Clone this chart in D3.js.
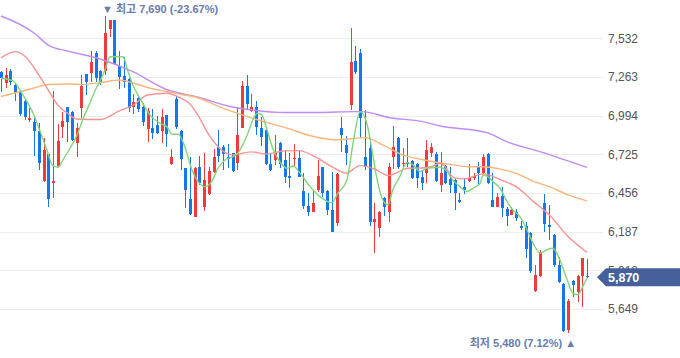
<!DOCTYPE html>
<html><head><meta charset="utf-8">
<script src="https://cdn.jsdelivr.net/npm/d3@7"></script>
<style>html,body{margin:0;padding:0;background:#fff;overflow:hidden}</style>
</head><body>
<svg id="c" width="680" height="358"></svg>
<script>
// ---- data ----
const opens  = [7299,7218,7304,7207,7160,7098,6963,6947,6887,6539,6727,6523,6644,6917,7051,7021,6801,7044,7281,7288,7431,7304,7306,7594,7658,7339,7269,7248,7056,7114,7051,6898,6910,6929,6889,6998,6658,7109,6887,6627,6412,6291,6639,6361,6449,6604,6778,6778,6709,6732,6667,6910,7200,7028,7051,6910,6894,6658,6685,6806,6685,6576,6692,6697,6470,6366,6326,6477,6634,6470,6338,6250,6910,6790,7068,7373,7431,6709,6771,6257,6210,6419,6326,6709,6841,6658,6674,6678,6655,6570,6593,6732,6727,6512,6644,6553,6546,6407,6500,6542,6558,6634,6597,6727,6407,6361,6435,6342,6303,6326,6227,6227,6180,5777,5881,6384,6234,6164,5955,5824,5504,5847,5770,5881,5880];
const highs  = [7306,7323,7316,7214,7172,7102,7044,6975,6940,6841,6727,7165,6933,7021,7056,7026,6940,7276,7283,7443,7445,7311,7690,7660,7662,7443,7404,7253,7142,7126,7079,7049,7040,6991,7038,7000,6760,7130,6894,6632,6709,6639,6713,6732,6639,6760,6894,6790,6794,6736,7056,7235,7276,7142,7095,6987,6896,6732,6859,6811,6755,6732,6794,6755,6593,6458,6470,6685,6639,6477,6604,6593,6987,6852,7605,7478,7455,7033,6836,6384,6330,6426,6662,6922,6845,6766,6836,6685,6662,6611,6824,6806,6743,6743,6651,6634,6550,6454,6558,6658,6593,6674,6727,6732,6593,6454,6500,6356,6361,6342,6264,6252,6187,5955,6060,6447,6373,6168,6013,5828,5717,5851,5885,6005,5995];
const lows   = [7160,7184,7207,7098,6991,6963,6952,6715,6616,6530,6356,6419,6639,6836,6808,6818,6709,6975,7137,7225,7230,7207,7276,7538,7350,7177,7184,7021,7005,7021,6922,6813,6829,6866,6806,6773,6651,6898,6616,6349,6303,6287,6512,6333,6442,6593,6674,6616,6627,6602,6616,6905,7033,7021,6859,6783,6651,6609,6651,6627,6523,6493,6639,6565,6342,6296,6322,6465,6430,6303,6183,6227,6743,6651,7033,7281,6836,6616,6227,6037,6152,6296,6257,6623,6621,6639,6639,6555,6488,6477,6523,6709,6535,6465,6516,6454,6338,6389,6447,6535,6546,6512,6588,6519,6356,6356,6287,6227,6300,6264,6199,6006,5898,5766,5874,6187,6129,5944,5828,5490,5480,5735,5701,5666,5863];
const closes = [7258,7274,7230,7149,7005,6987,6980,6889,6662,6755,6412,6539,6817,6956,6952,6824,6910,7200,7230,7369,7253,7218,7566,7658,7350,7265,7230,7044,7089,7040,6952,7026,6871,6875,6987,6864,6709,6912,6690,6477,6310,6627,6523,6546,6609,6709,6713,6727,6692,6609,6859,7200,7075,7051,6912,6843,6658,6616,6732,6658,6570,6563,6702,6570,6366,6326,6389,6574,6458,6338,6187,6588,6859,6736,7369,7295,6980,6639,6257,6273,6326,6361,6639,6778,6639,6667,6658,6558,6558,6523,6755,6778,6542,6593,6523,6512,6454,6396,6477,6558,6574,6593,6709,6523,6361,6426,6349,6296,6338,6280,6215,6064,5914,5886,6044,6238,6222,5955,5840,5499,5708,5817,5881,6002,5870];

// moving averages: [candle index, value]
const ma5 = [[0,7254],[2.5,7237],[4,7172],[5.5,7091],[6.8,7011],[8.3,6883],[9.7,6756],[11,6644],[12.1,6635],[13.1,6686],[14.6,6767],[16.1,6860],[17.4,6976],[18.8,7080],[20.3,7195],[20.9,7230],[22,7312],[23.1,7404],[25.8,7404],[26.9,7300],[27.9,7207],[29.4,7115],[31.5,6999],[33.6,6941],[35.1,6917],[36.2,6865],[37.5,6865],[38.9,6778],[40.4,6617],[41.7,6535],[43.2,6500],[44.6,6535],[45.9,6628],[47.4,6686],[49.1,6709],[50.1,6733],[52.1,6860],[53.3,6964],[54.2,7011],[55.2,6999],[56.3,6895],[57.6,6756],[59,6674],[60.5,6628],[61.8,6644],[63.3,6594],[65.4,6500],[67.5,6431],[70,6389],[71.3,6455],[73.2,6547],[74.5,6802],[76,7022],[77.4,6941],[78.5,6756],[79.6,6547],[80.8,6408],[81.9,6373],[82.9,6478],[84.4,6570],[85.9,6667],[87.2,6651],[88.7,6605],[90.1,6628],[91.4,6632],[92.9,6635],[94.4,6605],[95.6,6547],[97.1,6500],[98.6,6466],[99.9,6489],[101.4,6524],[102,6582],[103,6570],[104.1,6535],[105.6,6489],[107.1,6396],[108.3,6338],[109.8,6292],[111.3,6200],[112.6,6107],[114.1,6038],[115.5,6061],[116.8,6072],[118.1,6003],[119.8,5852],[121,5760],[122.1,5748],[123.1,5805],[124,5864]];
const ma20 = [[0,7395],[3,7439],[5,7409],[8,7277],[10,7172],[12,7068],[14,7013],[16,6971],[21,6967],[25,7027],[28,7068],[31,7138],[35,7150],[38,7117],[40,7075],[42,6978],[44,6860],[46,6776],[49,6721],[53,6742],[56,6728],[60,6749],[63,6751],[67,6698],[70,6639],[73,6594],[76,6646],[79,6623],[82,6577],[84,6601],[86,6628],[89,6630],[91,6639],[93,6663],[96,6561],[98,6554],[102,6589],[106,6544],[109,6500],[113,6387],[116,6304],[120,6153],[124,6042]];
const ma60 = [[0,7127],[7,7186],[10,7211],[14,7214],[17,7211],[21,7223],[25,7242],[28,7221],[31,7190],[35,7162],[38,7143],[42,7115],[46,7058],[53,6978],[60,6912],[67,6842],[71,6825],[77,6841],[81,6787],[85,6721],[89,6689],[95,6655],[99,6639],[102,6639],[106,6620],[109,6593],[113,6533],[116,6500],[120,6443],[124,6401]];
const ma120 = [[0,7687],[7,7569],[10,7485],[14,7444],[21,7388],[28,7298],[35,7176],[42,7120],[48,7061],[53,7034],[60,7016],[67,7016],[75,7022],[77,7020],[82,6981],[89,6954],[93,6922],[103,6874],[107,6813],[114,6744],[124,6634]];

const tickValues = [5649,5918,6187,6456,6725,6994,7263,7532];
const lastPrice = 5870;
const maxIdx = 22, maxLabel = "▼ 최고 7,690 (-23.67%)";
const minIdx = 120, minLabel = "최저 5,480 (7.12%) ▲";

// ---- drawing ----
const W = 680, H = 358;
const plotRight = 603;
const svg = d3.select("#c");
const font = "'Liberation Sans', Arial, 'Noto Sans CJK KR', sans-serif";
const UP = "#ef3b3b", DOWN = "#1677ea";

const x = d3.scaleLinear().domain([0, closes.length - 1]).range([1, 587]);
const y = d3.scaleLinear().domain([5649, 7532]).range([309, 38.3]);

// grid + axis
const axis = d3.axisRight(y).tickValues(tickValues).tickSize(-plotRight).tickPadding(5).tickFormat(d3.format(","));
const ag = svg.append("g").attr("transform", `translate(${plotRight},0)`).call(axis);
ag.select(".domain").remove();
ag.selectAll(".tick line").attr("stroke", "#ededed").attr("shape-rendering", "crispEdges");
ag.selectAll(".tick text").attr("fill", "#555").style("font-family", font).style("font-size", "12px");

// candles
const cg = svg.append("g").attr("shape-rendering", "crispEdges");
const idx = d3.range(closes.length);
cg.selectAll("line.w").data(idx).join("line")
  .attr("x1", i => Math.round(x(i)) + 0.5).attr("x2", i => Math.round(x(i)) + 0.5)
  .attr("y1", i => y(highs[i])).attr("y2", i => y(lows[i]))
  .attr("stroke", i => closes[i] >= opens[i] ? UP : DOWN).attr("stroke-width", 1);
cg.selectAll("rect.b").data(idx).join("rect")
  .attr("x", i => Math.round(x(i)) - 1).attr("width", 3)
  .attr("y", i => y(Math.max(opens[i], closes[i])))
  .attr("height", i => Math.max(1.5, Math.abs(y(opens[i]) - y(closes[i]))))
  .attr("fill", i => closes[i] >= opens[i] ? UP : DOWN);

// moving average lines
const line = d3.line().x(d => x(d[0])).y(d => y(d[1])).curve(d3.curveMonotoneX);
[[ma120, "#bf8cf6"], [ma60, "#fbb57c"], [ma20, "#f79393"], [ma5, "#7fd67c"]].forEach(([d, c]) => {
  svg.append("path").datum(d).attr("d", line).attr("fill", "none")
    .attr("stroke", c).attr("stroke-width", 1.4).attr("stroke-linejoin", "round");
});

// max / min annotations
svg.append("text").attr("x", x(maxIdx) - 3).attr("y", 13)
  .attr("fill", "#6a7cae").style("font-family", font).style("font-size", "11px").style("font-weight", "600")
  .text(maxLabel);
svg.append("text").attr("x", x(minIdx) + 8).attr("y", 347).attr("text-anchor", "end")
  .attr("fill", "#6a7cae").style("font-family", font).style("font-size", "11px").style("font-weight", "600")
  .text(minLabel);

// last price tag
const yc = y(lastPrice);
const tag = svg.append("g");
tag.append("path")
  .attr("d", `M597,${yc} L606,${yc - 9} L${W},${yc - 9} L${W},${yc + 9} L606,${yc + 9} Z`)
  .attr("fill", "#45609b");
tag.append("text").attr("x", 608).attr("y", yc + 4.5).attr("fill", "#fff")
  .style("font-family", font).style("font-size", "12.5px").style("font-weight", "700")
  .text(d3.format(",")(lastPrice));
</script>
</body></html>
